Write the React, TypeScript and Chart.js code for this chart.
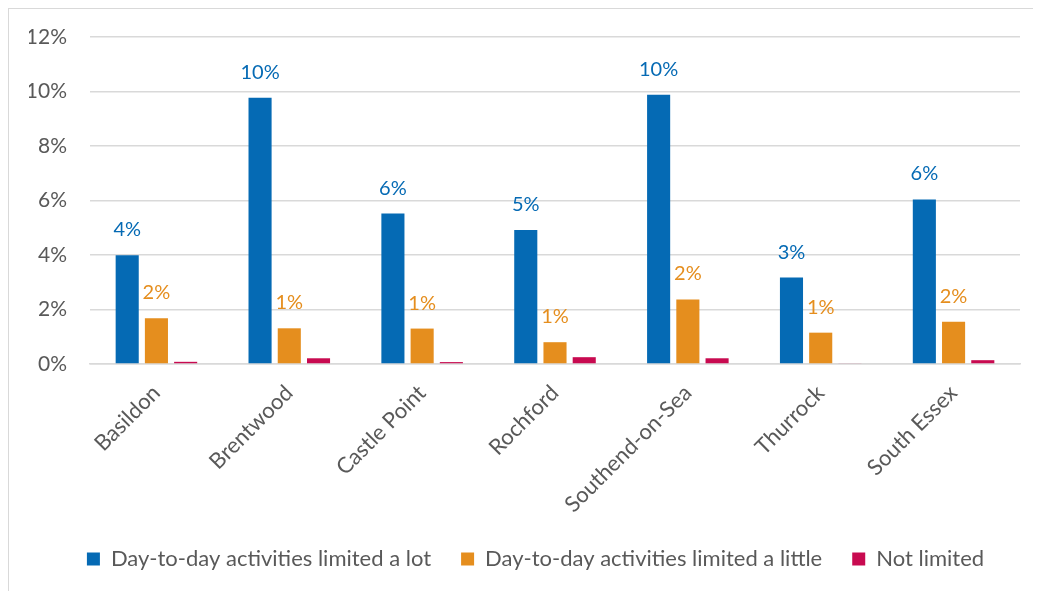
import React, { useEffect, useRef } from "react";
import { Chart, registerables } from "chart.js";

Chart.register(...registerables);

const categories = ["Basildon", "Brentwood", "Castle Point", "Rochford", "Southend-on-Sea", "Thurrock", "South Essex"];
const limitedALot = [3.99, 9.77, 5.52, 4.92, 9.88, 3.17, 6.04];
const limitedALittle = [1.68, 1.31, 1.3, 0.8, 2.37, 1.15, 1.55];
const notLimited = [0.08, 0.21, 0.07, 0.25, 0.21, 0.03, 0.14];
const seriesNames = ["Day-to-day activities limited a lot", "Day-to-day activities limited a little", "Not limited"];
const seriesColors = ["#056AB4", "#E58E1E", "#C80A50"];
const yMin = 0;
const yMax = 12;
const yStep = 2;

const FONT = "Lato, 'Noto Sans', sans-serif";
const TEXT = "#595959";

const valueLabels = {
  id: "valueLabels",
  afterDatasetsDraw(chart: any) {
    const ctx = chart.ctx;
    ctx.save();
    ctx.font = `20px ${FONT}`;
    ctx.textAlign = "center";
    ctx.textBaseline = "alphabetic";
    [0, 1].forEach((di) => {
      const meta = chart.getDatasetMeta(di);
      const ds = chart.data.datasets[di];
      meta.data.forEach((bar: any, i: number) => {
        const v = ds.data[i] as number;
        ctx.fillStyle = seriesColors[di];
        ctx.fillText(Math.round(v) + "%", bar.x, bar.y - 19);
      });
    });
    ctx.restore();
  },
};

const legendShift = {
  id: "legendShift",
  afterLayout(chart: any) {
    if (chart.legend) {
      chart.legend.left += 11;
      chart.legend.right += 11;
    }
  },
};

export default function App() {
  const ref = useRef<HTMLCanvasElement>(null);
  useEffect(() => {
    const chart = new Chart(ref.current!, {
      type: "bar",
      data: {
        labels: categories,
        datasets: [limitedALot, limitedALittle, notLimited].map((d, i) => ({
          label: seriesNames[i],
          data: d,
          backgroundColor: seriesColors[i],
          borderWidth: 0,
          categoryPercentage: 0.66,
          barPercentage: 0.79,
        })),
      },
      options: {
        responsive: false,
        animation: false,
        layout: { padding: { left: 20, right: 21, top: 28, bottom: 11 } },
        plugins: {
          tooltip: { enabled: false },
          legend: {
            position: "bottom",
            labels: {
              boxWidth: 13,
              boxHeight: 13,
              padding: 30,
              color: TEXT,
              font: { family: FONT, size: 22 },
            },
          },
        },
        scales: {
          x: {
            grid: { display: false },
            border: { display: true, color: "#d9d9d9", width: 1.5 },
            ticks: {
              color: TEXT,
              font: { family: FONT, size: 22 },
              minRotation: 45,
              maxRotation: 45,
              padding: 8,
            },
            afterFit: (s: any) => {
              s.height = 154;
            },
          },
          y: {
            min: yMin,
            max: yMax,
            grid: { color: "#d9d9d9", lineWidth: 1.5, drawTicks: false },
            border: { display: false },
            ticks: {
              stepSize: yStep,
              color: TEXT,
              font: { family: FONT, size: 21 },
              padding: 23,
              callback: (v: any) => v + "%",
            },
            afterFit: (s: any) => {
              s.width = 61;
              s.paddingTop = 0;
              s.paddingBottom = 0;
            },
          },
        },
      },
      plugins: [valueLabels, legendShift],
    });
    return () => chart.destroy();
  }, []);
  return (
    <div
      style={{
        width: 1033,
        height: 583,
        boxSizing: "border-box",
        borderLeft: "1px solid #d9d9d9",
        borderTop: "1px solid #d9d9d9",
        background: "#fff",
      }}
    >
      <canvas ref={ref} width={1032} height={582} style={{ display: "block" }} />
    </div>
  );
}
